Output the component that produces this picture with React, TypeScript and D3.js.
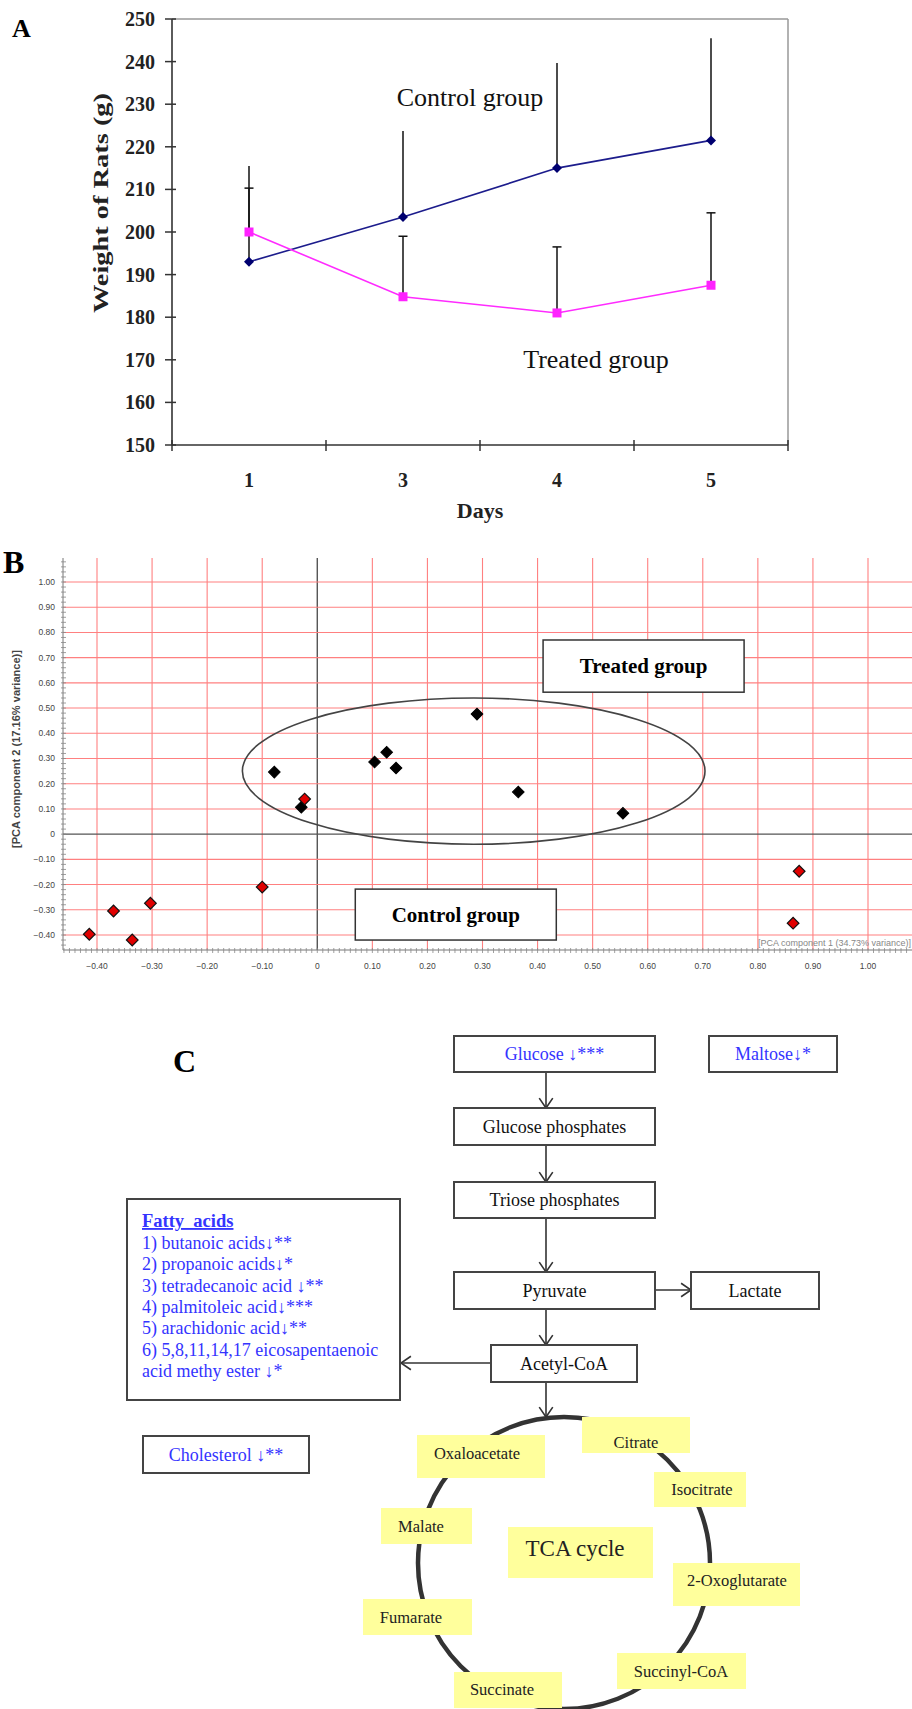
import React from "react";
import * as d3 from "d3";

// ---- Panel A: body weight ----
const days = ["1", "3", "4", "5"];
const controlMean = [193, 203.5, 215, 221.5];
const controlErr = [22.5, 20.2, 24.7, 24];
const treatedMean = [200, 184.8, 181, 187.5];
const treatedErr = [10.3, 14.2, 15.5, 17];
const weightTicks = [150, 160, 170, 180, 190, 200, 210, 220, 230, 240, 250];

// ---- Panel B: PCA scores ----
const treatedPC1 = [-0.078, -0.029, 0.104, 0.126, 0.143, 0.29, 0.365, 0.555];
const treatedPC2 = [0.246, 0.107, 0.286, 0.325, 0.262, 0.476, 0.167, 0.083];
const controlPC1 = [-0.023, -0.1, -0.303, -0.37, -0.414, -0.336, 0.875, 0.864];
const controlPC2 = [0.139, -0.21, -0.274, -0.305, -0.397, -0.42, -0.147, -0.353];
const pcaXTicks = [-0.4, -0.3, -0.2, -0.1, 0, 0.1, 0.2, 0.3, 0.4, 0.5, 0.6, 0.7, 0.8, 0.9, 1.0];
const pcaYTicks = [-0.4, -0.3, -0.2, -0.1, 0, 0.1, 0.2, 0.3, 0.4, 0.5, 0.6, 0.7, 0.8, 0.9, 1.0];

// ---- Panel C: pathway ----
const fattyAcids = [
  "1) butanoic acids\u2193**",
  "2) propanoic acids\u2193*",
  "3) tetradecanoic acid \u2193**",
  "4) palmitoleic acid\u2193***",
  "5) arachidonic acid\u2193**",
  "6) 5,8,11,14,17 eicosapentaenoic",
  "acid methy ester \u2193*",
];
const tcaLabels = [
  "Oxaloacetate",
  "Citrate",
  "Isocitrate",
  "2-Oxoglutarate",
  "Succinyl-CoA",
  "Succinate",
  "Fumarate",
  "Malate",
];

const serif = "'Liberation Serif', 'Times New Roman', serif";
const sans = "'Liberation Sans', Arial, sans-serif";
const blue = "#3434ff";

// layout
const xA = d3.scaleBand<string>().domain(days).range([172, 788]).padding(0);
const yA = d3.scaleLinear().domain([150, 250]).range([445, 19]);
const cxA = (d: string) => (xA(d) as number) + xA.bandwidth() / 2;

const xB = d3.scaleLinear().domain([-0.4, 1.0]).range([97, 868]);
const yB = d3.scaleLinear().domain([-0.4, 1.0]).range([935, 582]);
const bL = 63, bR = 912, bT = 558, bB = 950;

const tcaBoxes = [
  { x: 417, y: 1435, w: 128, h: 43, tx: 477, ty: 1453 },
  { x: 582, y: 1417, w: 108, h: 36, tx: 636, ty: 1442 },
  { x: 654, y: 1472, w: 92, h: 35, tx: 702, ty: 1489 },
  { x: 673, y: 1563, w: 127, h: 43, tx: 737, ty: 1580 },
  { x: 617, y: 1653, w: 129, h: 36, tx: 681, ty: 1671 },
  { x: 454, y: 1672, w: 108, h: 36, tx: 502, ty: 1689 },
  { x: 363, y: 1599, w: 109, h: 36, tx: 411, ty: 1617 },
  { x: 381, y: 1508, w: 91, h: 36, tx: 421, ty: 1526 },
];

const Arrow = ({ x1, y1, x2, y2 }: any) => {
  const a = Math.atan2(y2 - y1, x2 - x1);
  const L = 12, s = 0.6;
  const p1 = [x2 - L * Math.cos(a - s), y2 - L * Math.sin(a - s)];
  const p2 = [x2 - L * Math.cos(a + s), y2 - L * Math.sin(a + s)];
  return (
    <g stroke="#333" strokeWidth={1.6} fill="none">
      <line x1={x1} y1={y1} x2={x2} y2={y2} />
      <polyline points={`${p1[0]},${p1[1]} ${x2},${y2} ${p2[0]},${p2[1]}`} />
    </g>
  );
};

const Box = ({ x, y, w, h, label, color = "#111", size = 18 }: any) => (
  <g>
    <rect x={x} y={y} width={w} height={h} fill="#fff" stroke="#444" strokeWidth={2} />
    <text x={x + w / 2} y={y + h / 2} dy="0.35em" textAnchor="middle" fontFamily={serif} fontSize={size} fill={color}>
      {label}
    </text>
  </g>
);

const PanelA = () => {
  const line = d3.line<number>().x((_, i) => cxA(days[i])).y((d) => yA(d));
  const diamond = d3.symbol(d3.symbolSquare, 50)()!;
  return (
    <g>
      <text x={12} y={37} fontFamily={serif} fontWeight="bold" fontSize={26}>A</text>
      <line x1={172} y1={19} x2={788} y2={19} stroke="#999" strokeWidth={1.5} />
      <line x1={788} y1={19} x2={788} y2={445} stroke="#999" strokeWidth={1.5} />
      <line x1={172} y1={19} x2={172} y2={445} stroke="#333" strokeWidth={1.6} />
      <line x1={172} y1={445} x2={788} y2={445} stroke="#333" strokeWidth={1.6} />
      {weightTicks.map((t) => (
        <g key={t}>
          <line x1={165} x2={176} y1={yA(t)} y2={yA(t)} stroke="#333" strokeWidth={1.5} />
          <text x={155} y={yA(t)} dy="0.35em" textAnchor="end" fontFamily={serif} fontWeight="bold" fontSize={20} fill="#222">
            {t}
          </text>
        </g>
      ))}
      {[...days.map((d) => xA(d) as number), 788].map((x, i) => (
        <line key={i} x1={x} x2={x} y1={440} y2={451} stroke="#333" strokeWidth={1.5} />
      ))}
      {days.map((d) => (
        <text key={d} x={cxA(d)} y={480} dy="0.35em" textAnchor="middle" fontFamily={serif} fontWeight="bold" fontSize={20} fill="#222">
          {d}
        </text>
      ))}
      <text x={480} y={510} dy="0.35em" textAnchor="middle" fontFamily={serif} fontWeight="bold" fontSize={22} fill="#222">Days</text>
      <text
        transform={`translate(100,203) rotate(-90)`}
        dy="0.35em"
        textAnchor="middle"
        fontFamily={serif}
        fontWeight="bold"
        fontSize={22}
        fill="#222"
        textLength={220}
        lengthAdjust="spacingAndGlyphs"
      >
        Weight of Rats (g)
      </text>
      {/* error bars */}
      {days.map((d, i) => (
        <g key={"ec" + d} stroke="#111" strokeWidth={1.5}>
          <line x1={cxA(d)} x2={cxA(d)} y1={yA(controlMean[i])} y2={yA(controlMean[i] + controlErr[i])} />
        </g>
      ))}
      {days.map((d, i) => (
        <g key={"et" + d} stroke="#111" strokeWidth={1.5}>
          <line x1={cxA(d)} x2={cxA(d)} y1={yA(treatedMean[i])} y2={yA(treatedMean[i] + treatedErr[i])} />
          <line x1={cxA(d) - 4.5} x2={cxA(d) + 4.5} y1={yA(treatedMean[i] + treatedErr[i])} y2={yA(treatedMean[i] + treatedErr[i])} />
        </g>
      ))}
      <path d={line(controlMean)!} fill="none" stroke="#1c1c8c" strokeWidth={1.6} />
      <path d={line(treatedMean)!} fill="none" stroke="#ff2bff" strokeWidth={1.6} />
      {days.map((d, i) => (
        <path key={"mc" + d} d={diamond} transform={`translate(${cxA(d)},${yA(controlMean[i])}) rotate(45)`} fill="#000070" />
      ))}
      {days.map((d, i) => (
        <rect key={"mt" + d} x={cxA(d) - 4.5} y={yA(treatedMean[i]) - 4.5} width={9} height={9} fill="#ff22ff" />
      ))}
      <text x={470} y={106} textAnchor="middle" fontFamily={serif} fontSize={26} fill="#111">Control group</text>
      <text x={596} y={368} textAnchor="middle" fontFamily={serif} fontSize={26} fill="#111">Treated group</text>
    </g>
  );
};

const PanelB = () => {
  const ext = d3.scaleLinear().domain([xB.invert(bL), xB.invert(bR)]);
  const minorX = ext.ticks(140);
  const minorY = d3.scaleLinear().domain([yB.invert(bB), yB.invert(bT)]).ticks(75);
  const diamond = d3.symbol(d3.symbolSquare, 68)()!;
  const fmt = (v: number) => (Math.abs(v) < 1e-9 ? "0" : d3.format(".2f")(v));
  return (
    <g>
      <text x={3} y={573} fontFamily={serif} fontWeight="bold" fontSize={32}>B</text>
      {pcaXTicks.map((t) => (
        <line key={"gx" + t} x1={xB(t)} x2={xB(t)} y1={bT} y2={bB} stroke={t === 0 ? "#555" : "#ff8080"} strokeWidth={t === 0 ? 1.4 : 1.1} />
      ))}
      {pcaYTicks.map((t) => (
        <line key={"gy" + t} x1={bL} x2={bR} y1={yB(t)} y2={yB(t)} stroke={t === 0 ? "#555" : "#ff8080"} strokeWidth={t === 0 ? 1.4 : 1.1} />
      ))}
      <line x1={bL} x2={bL} y1={bT} y2={bB} stroke="#777" strokeWidth={1} />
      <line x1={bL} x2={bR} y1={bB} y2={bB} stroke="#777" strokeWidth={1} />
      {minorY.map((t, i) => (
        <line key={"my" + i} x1={bL - 2} x2={bL + 3} y1={yB(t)} y2={yB(t)} stroke="#888" strokeWidth={0.8} />
      ))}
      {minorX.map((t, i) => (
        <line key={"mx" + i} x1={xB(t)} x2={xB(t)} y1={bB - 2} y2={bB + 3} stroke="#888" strokeWidth={0.8} />
      ))}
      {pcaYTicks.map((t) => (
        <text key={"ly" + t} x={55} y={yB(t)} dy="0.35em" textAnchor="end" fontFamily={sans} fontSize={8.5} fill="#444">
          {fmt(t)}
        </text>
      ))}
      {pcaXTicks.map((t) => (
        <text key={"lx" + t} x={xB(t)} y={966} dy="0.35em" textAnchor="middle" fontFamily={sans} fontSize={8.5} fill="#444">
          {fmt(t)}
        </text>
      ))}
      <text
        transform="translate(16,749) rotate(-90)"
        dy="0.35em"
        textAnchor="middle"
        fontFamily={sans}
        fontWeight="bold"
        fontSize={10}
        fill="#444"
        textLength={198}
        lengthAdjust="spacingAndGlyphs"
      >
        [PCA component 2 (17.16% variance)]
      </text>
      <text x={758} y={946} fontFamily={sans} fontSize={9} fill="#888">[PCA component 1 (34.73% variance)]</text>
      <ellipse cx={xB(0.284)} cy={yB(0.25)} rx={xB(0.284 + 0.42) - xB(0.284)} ry={yB(0.25) - yB(0.25 + 0.29)} fill="none" stroke="#444" strokeWidth={1.6} />
      <rect x={xB(0.41)} y={yB(0.77)} width={xB(0.775) - xB(0.41)} height={yB(0.563) - yB(0.77)} fill="#fff" stroke="#333" strokeWidth={1.5} />
      <text x={(xB(0.41) + xB(0.775)) / 2} y={yB(0.667)} dy="0.35em" textAnchor="middle" fontFamily={serif} fontWeight="bold" fontSize={21}>
        Treated group
      </text>
      <rect x={xB(0.069)} y={yB(-0.218)} width={xB(0.434) - xB(0.069)} height={yB(-0.42) - yB(-0.218)} fill="#fff" stroke="#333" strokeWidth={1.5} />
      <text x={(xB(0.069) + xB(0.434)) / 2} y={yB(-0.319)} dy="0.35em" textAnchor="middle" fontFamily={serif} fontWeight="bold" fontSize={21}>
        Control group
      </text>
      {treatedPC1.map((v, i) => (
        <path key={"t" + i} d={diamond} transform={`translate(${xB(v)},${yB(treatedPC2[i])}) rotate(45)`} fill="#000" stroke="#000" strokeWidth={1} />
      ))}
      {controlPC1.map((v, i) => (
        <path key={"c" + i} d={diamond} transform={`translate(${xB(v)},${yB(controlPC2[i])}) rotate(45)`} fill="#e00000" stroke="#111" strokeWidth={1.2} />
      ))}
    </g>
  );
};

const PanelC = () => {
  const ax = 546;
  return (
    <g>
      <text x={173} y={1072} fontFamily={serif} fontWeight="bold" fontSize={32}>C</text>
      <circle cx={564} cy={1563} r={146} fill="none" stroke="#333" strokeWidth={4.5} />
      <Arrow x1={ax} y1={1072} x2={ax} y2={1108} />
      <Arrow x1={ax} y1={1145} x2={ax} y2={1182} />
      <Arrow x1={ax} y1={1218} x2={ax} y2={1272} />
      <Arrow x1={ax} y1={1309} x2={ax} y2={1345} />
      <Arrow x1={655} y1={1290} x2={691} y2={1290} />
      <Arrow x1={491} y1={1363} x2={401} y2={1363} />
      <Arrow x1={ax} y1={1382} x2={ax} y2={1417} />
      <Box x={454} y={1036} w={201} h={36} label={"Glucose \u2193***"} color={blue} />
      <Box x={709} y={1036} w={128} h={36} label={"Maltose\u2193*"} color={blue} />
      <Box x={454} y={1108} w={201} h={37} label="Glucose phosphates" />
      <Box x={454} y={1182} w={201} h={36} label="Triose phosphates" />
      <Box x={454} y={1272} w={201} h={37} label="Pyruvate" />
      <Box x={691} y={1272} w={128} h={37} label="Lactate" />
      <Box x={491} y={1345} w={146} h={37} label="Acetyl-CoA" />
      <Box x={143} y={1436} w={166} h={37} label={"Cholesterol \u2193**"} color={blue} />
      <rect x={127} y={1199} width={273} height={201} fill="#fff" stroke="#444" strokeWidth={2} />
      <text x={142} y={1227} fontFamily={serif} fontWeight="bold" fontSize={18.5} fill={blue} textDecoration="underline" style={{ whiteSpace: "pre" }}>
        {"Fatty  acids"}
      </text>
      {fattyAcids.map((t, i) => (
        <text key={i} x={142} y={1249 + i * 21.3} fontFamily={serif} fontSize={18} fill={blue} style={{ whiteSpace: "pre" }}>
          {t}
        </text>
      ))}
      {tcaBoxes.map((b, i) => (
        <g key={i}>
          <rect x={b.x} y={b.y} width={b.w} height={b.h} fill="#ffff9c" />
          <text x={b.tx} y={b.ty} dy="0.35em" textAnchor="middle" fontFamily={serif} fontSize={16.5} fill="#222">
            {tcaLabels[i]}
          </text>
        </g>
      ))}
      <rect x={508} y={1527} width={145} height={51} fill="#ffff9c" />
      <text x={575} y={1548} dy="0.35em" textAnchor="middle" fontFamily={serif} fontSize={23} fill="#222">TCA cycle</text>
    </g>
  );
};

export default function App() {
  return (
    <svg width={912} height={1709} style={{ position: "absolute", left: 0, top: 0, background: "#fff" }}>
      <rect width={912} height={1709} fill="#fff" />
      <PanelA />
      <PanelB />
      <PanelC />
    </svg>
  );
}
